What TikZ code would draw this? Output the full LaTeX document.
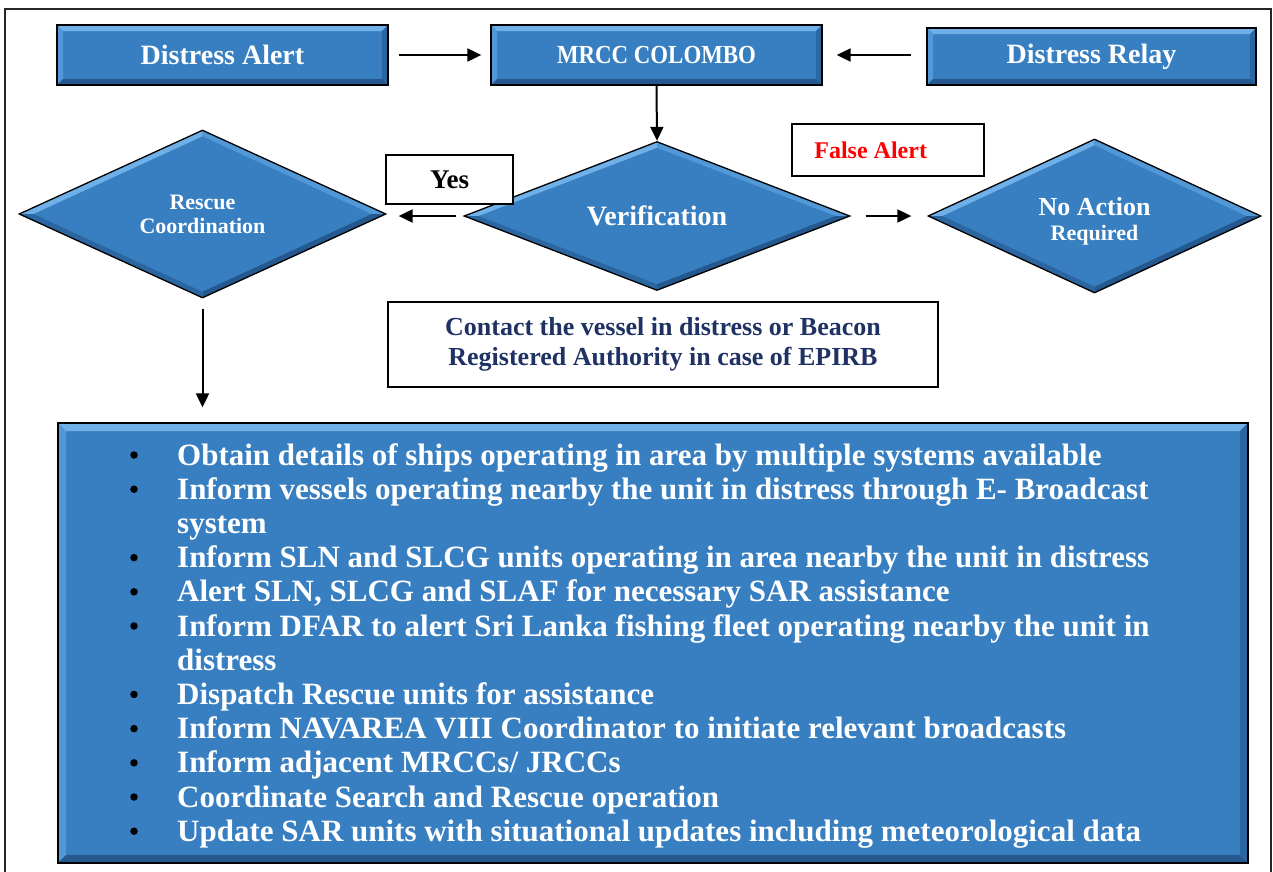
\documentclass[tikz,border=0pt]{standalone}
\usepackage{fontspec}
\setmainfont{Liberation Serif}
\usetikzlibrary{shapes.geometric,arrows.meta,calc}
\definecolor{boxblue}{RGB}{56,127,194}
\definecolor{bevlight}{RGB}{112,176,232}
\definecolor{bevmid}{RGB}{82,152,214}
\definecolor{bevdark}{RGB}{36,88,142}
\definecolor{bevdarkb}{RGB}{44,102,160}
\definecolor{navytext}{RGB}{31,50,99}
\tikzset{
  rbevel/.style={path picture={
    \path (path picture bounding box.north west) coordinate (pNW)
          (path picture bounding box.north east) coordinate (pNE)
          (path picture bounding box.south west) coordinate (pSW)
          (path picture bounding box.south east) coordinate (pSE);
    \fill[bevlight] (pNW) -- (pNE) -- ([xshift=-#1,yshift=-#1]pNE) -- ([xshift=#1,yshift=-#1]pNW) -- cycle;
    \fill[bevmid] (pNW) -- ([xshift=#1,yshift=-#1]pNW) -- ([xshift=#1,yshift=#1]pSW) -- (pSW) -- cycle;
    \fill[bevdark] (pSW) -- (pSE) -- ([xshift=-#1,yshift=#1]pSE) -- ([xshift=#1,yshift=#1]pSW) -- cycle;
    \fill[bevdarkb] (pNE) -- (pSE) -- ([xshift=-#1,yshift=#1]pSE) -- ([xshift=-#1,yshift=-#1]pNE) -- cycle;
  }},
  dbevel/.style={path picture={
    \path (path picture bounding box.west) coordinate (pW)
          (path picture bounding box.north) coordinate (pN)
          (path picture bounding box.east) coordinate (pE)
          (path picture bounding box.south) coordinate (pS);
    \fill[bevlight] (pW) -- (pN) -- ([yshift=-6pt]pN) -- ([xshift=14pt]pW) -- cycle;
    \fill[bevmid] (pN) -- (pE) -- ([xshift=-14pt]pE) -- ([yshift=-6pt]pN) -- cycle;
    \fill[bevdark] (pE) -- (pS) -- ([yshift=6pt]pS) -- ([xshift=-14pt]pE) -- cycle;
    \fill[bevdarkb] (pS) -- (pW) -- ([xshift=14pt]pW) -- ([yshift=6pt]pS) -- cycle;
  }},
  bluebox/.style={rectangle, draw=black, line width=1.3pt, fill=boxblue, rbevel=6pt,
    text=white, inner sep=0pt, font=\bfseries\fontsize{28}{30}\selectfont},
  bluediamond/.style={diamond, shape aspect=2.3, draw=black, line width=1.3pt, fill=boxblue, dbevel,
    text=white, inner sep=0pt, align=center},
  whitebox/.style={rectangle, draw=black, line width=1.6pt, fill=white, inner sep=0pt},
  arr/.style={line width=2pt, -{Triangle[length=14pt,width=13pt]}},
  listline/.style={anchor=base west, text=white, inner sep=0pt, font=\bfseries\fontsize{31}{34}\selectfont},
  bulletdot/.style={circle, fill=black, inner sep=0pt, minimum size=7.5pt},
}
\begin{document}
\begin{tikzpicture}[x=1pt,y=-1pt]
\useasboundingbox (0,0) rectangle (1273,871);
\fill[white] (0,0) rectangle (1273,871);
\draw[line width=1.2pt, black!85] (5,9) rectangle (1271,900);

% top row
\node[bluebox, minimum width=331pt, minimum height=60pt] (alert) at (222.5,55) {Distress Alert};
\node[bluebox, minimum width=331pt, minimum height=60pt, font=\bfseries\fontsize{26}{28}\selectfont] (mrcc) at (656.5,55) {\scalebox{0.88}[1]{MRCC COLOMBO}};
\node[bluebox, minimum width=329pt, minimum height=57pt] (relay) at (1091.5,56.5) {Distress Relay};

% diamonds
\node[bluediamond, minimum width=367pt, minimum height=168pt, font=\bfseries\fontsize{22}{24}\selectfont] (rescue) at (202.5,214) {Rescue\\Coordination};
\node[bluediamond, minimum width=386pt, minimum height=149pt, font=\bfseries\fontsize{28}{30}\selectfont] (verif) at (657,216) {Verification};
\node[bluediamond, minimum width=333pt, minimum height=154pt] (noact) at (1094.5,216) {};
\node[text=white, align=center, inner sep=0pt, font=\bfseries\fontsize{24}{26}\selectfont] (noacttxt) at ([yshift=-5pt]noact.center) {{\fontsize{26}{26}\selectfont No Action}\\[-1pt]{\fontsize{22}{26}\selectfont Required}};

% label boxes
\node[whitebox, minimum width=127pt, minimum height=49pt, font=\bfseries\fontsize{27}{30}\selectfont] (yes) at (449.5,179.5) {Yes};
\node[whitebox, minimum width=192pt, minimum height=52pt] (false) at (888,150) {};
\node[anchor=west, inner sep=0pt, text=red, font=\bfseries\fontsize{24}{26}\selectfont] (falsetxt) at ([xshift=23pt]false.west) {False Alert};
\node[whitebox, minimum width=550pt, minimum height=85pt, text=navytext, align=center, font=\bfseries\fontsize{26}{30}\selectfont] (contact) at (663,344.5) {Contact the vessel in distress or Beacon\\Registered Authority in case of EPIRB};

% list box
\node[bluebox, rbevel=8pt, minimum width=1190pt, minimum height=440pt] (list) at (653,643) {};

% connectors
\draw[arr, shorten <=10pt, shorten >=9pt] (alert) -- (mrcc);
\draw[arr, shorten <=15pt, shorten >=14pt] (relay.west |- mrcc.east) -- (mrcc.east);
\draw[arr] (mrcc.south) -- (verif.north);
\draw[arr, shorten <=7pt, shorten >=12pt] (verif.west) -- (verif.west -| rescue.east);
\draw[arr, shorten <=15pt, shorten >=16pt] (verif.east) -- (noact.west);
\draw[arr, shorten <=10pt, shorten >=15pt] (rescue.south) -- (rescue.south |- list.north);

% list lines
\node[listline] (l1) at (177,465) {Obtain details of ships operating in area by multiple systems available};
\node[listline] (l2) at (177,499.2) {Inform vessels operating nearby the unit in distress through E- Broadcast};
\node[listline] (l3) at (177,533.4) {system};
\node[listline] (l4) at (177,567.6) {Inform SLN and SLCG units operating in area nearby the unit in distress};
\node[listline] (l5) at (177,601.8) {Alert SLN, SLCG and SLAF for necessary SAR assistance};
\node[listline] (l6) at (177,636) {Inform DFAR to alert Sri Lanka fishing fleet operating nearby the unit in};
\node[listline] (l7) at (177,670.2) {distress};
\node[listline] (l8) at (177,704.4) {Dispatch Rescue units for assistance};
\node[listline] (l9) at (177,738.6) {Inform NAVAREA VIII Coordinator to initiate relevant broadcasts};
\node[listline] (l10) at (177,772.8) {Inform adjacent MRCCs/ JRCCs};
\node[listline] (l11) at (177,807) {Coordinate Search and Rescue operation};
\node[listline] (l12) at (177,841.2) {Update SAR units with situational updates including meteorological data};
\foreach \k in {1,2,4,5,6,8,9,10,11,12}
  \node[bulletdot] (b\k) at ([xshift=-43pt,yshift=10pt]l\k.base west) {};
\end{tikzpicture}
\end{document}
